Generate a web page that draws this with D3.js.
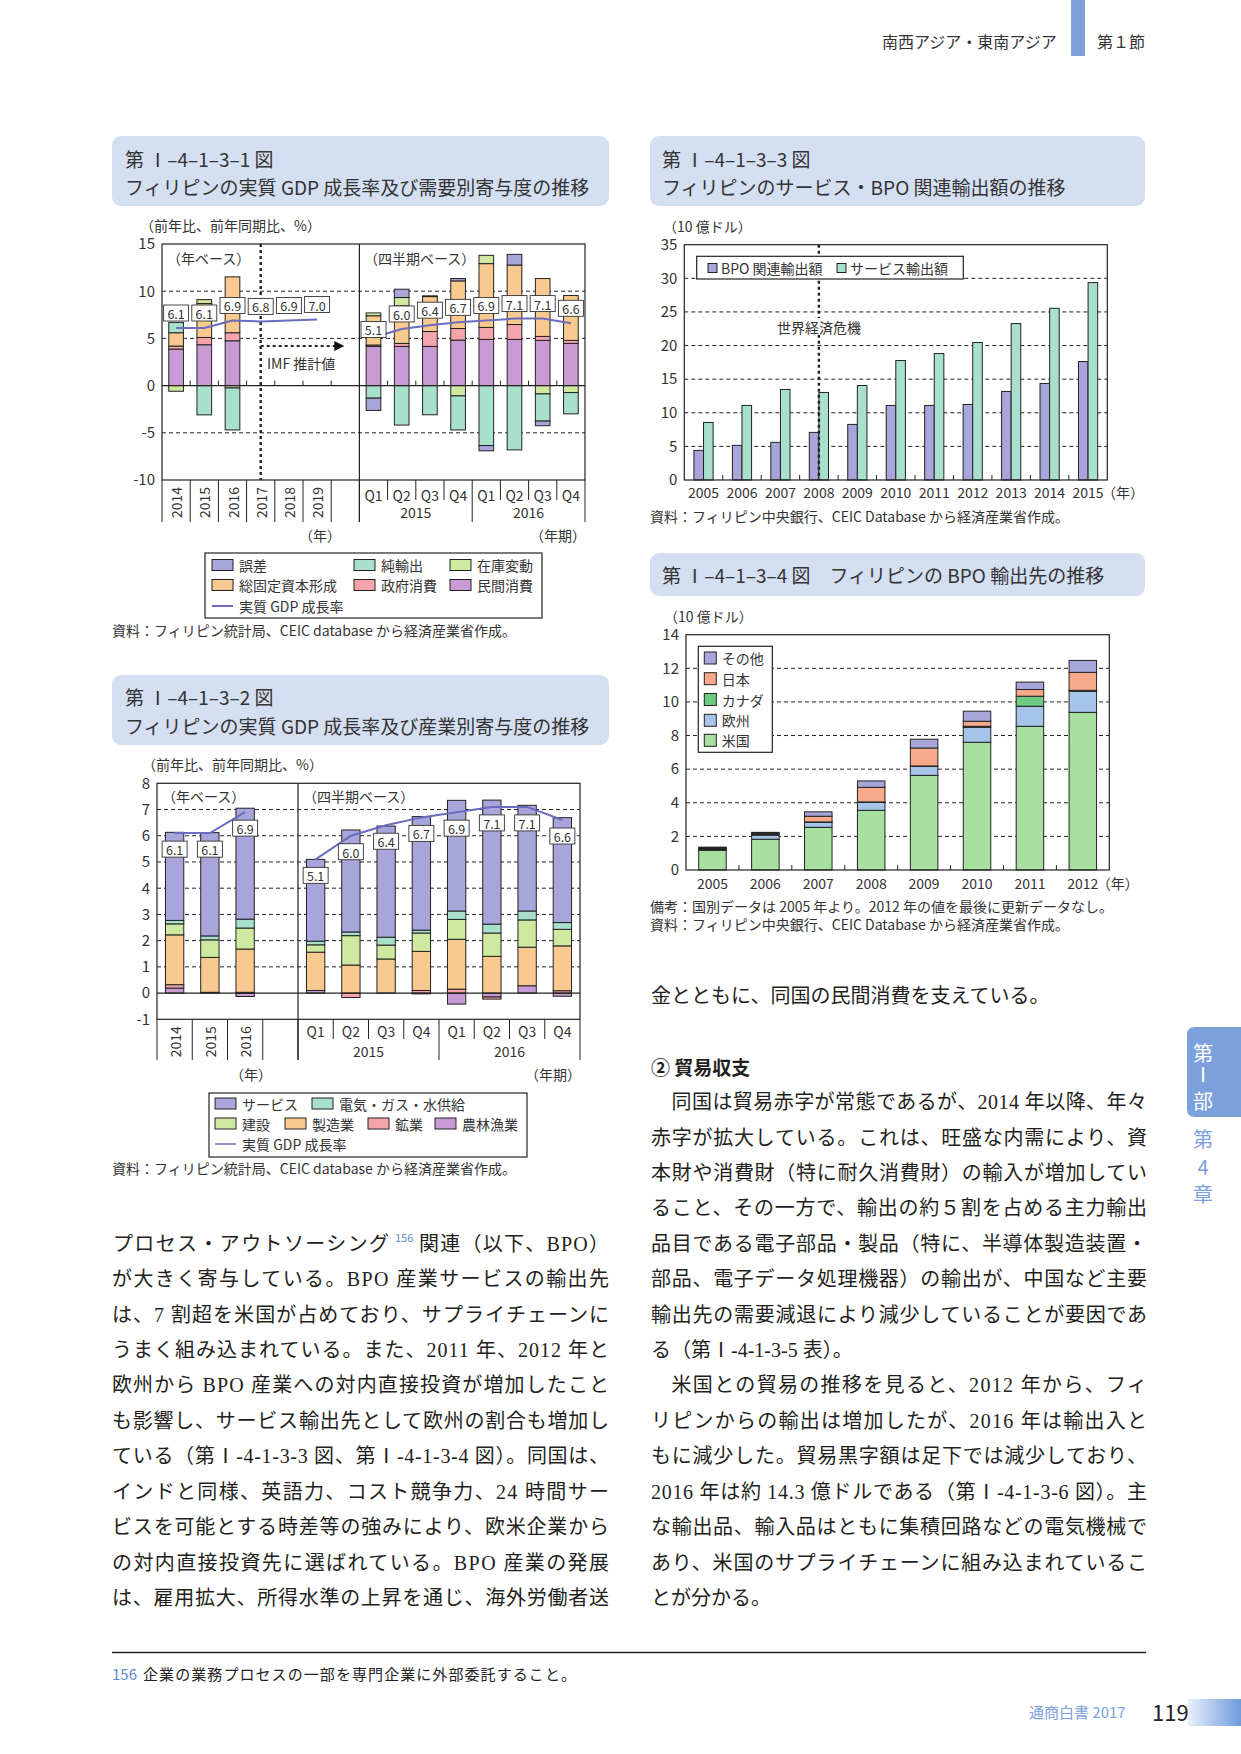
<!DOCTYPE html>
<html><head><meta charset="utf-8">
<script src="https://cdn.jsdelivr.net/npm/d3@7"></script>
<style>body{margin:0;background:#fff}svg{display:block}</style>
</head><body>
<script>
// ================= DATA =================
// Chart 1: real GDP growth & demand contributions
const c1Slots = ["2014","2015","2016","2017","2018","2019","blank","2015Q1","2015Q2","2015Q3","2015Q4","2016Q1","2016Q2","2016Q3","2016Q4"];
const c1BarPeriods = ["2014","2015","2016","2015Q1","2015Q2","2015Q3","2015Q4","2016Q1","2016Q2","2016Q3","2016Q4"];
const c1Keys = ["民間消費","政府消費","総固定資本形成","在庫変動","純輸出","誤差"];
const c1Private = [3.87,4.33,4.75,4.15,4.15,4.15,4.82,4.89,4.89,4.79,4.47];
const c1Gov     = [0.32,0.77,0.85,0.15,0.32,1.58,1.23,1.27,1.58,0.42,0.32];
const c1GFCF    = [1.41,3.59,5.92,3.10,3.98,3.70,5.04,6.76,6.30,6.13,4.75];
const c1Inv     = [-0.60,0.42,-0.25,0.30,0.88,0.00,-1.09,0.88,0.00,-0.88,-0.74];
const c1NetExp  = [1.09,-3.10,-4.45,-1.33,-4.18,-3.09,-3.61,-6.35,-6.81,-2.88,-2.25];
const c1Err     = [0.00,0.00,0.00,-1.30,0.88,0.08,0.25,-0.56,1.13,-0.49,0.00];
const c1GdpYears = ["2014","2015","2016","2017","2018","2019"];
const c1GdpAnnual = [6.1,6.1,6.9,6.8,6.9,7.0];
const c1GdpQuarters = ["2015Q1","2015Q2","2015Q3","2015Q4","2016Q1","2016Q2","2016Q3","2016Q4"];
const c1GdpQuarterly = [5.1,6.0,6.4,6.7,6.9,7.1,7.1,6.6];
const c1YTicks = [-10,-5,0,5,10,15];

// Chart 2: real GDP growth & industry contributions
const c2Slots = ["2014","2015","2016","blank","2015Q1","2015Q2","2015Q3","2015Q4","2016Q1","2016Q2","2016Q3","2016Q4"];
const c2BarPeriods = ["2014","2015","2016","2015Q1","2015Q2","2015Q3","2015Q4","2016Q1","2016Q2","2016Q3","2016Q4"];
const c2Keys = ["農林漁業","鉱業","製造業","建設","電気・ガス・水供給","サービス"];
const c2Agri    = [0.19,0.02,-0.13,0.10,0.00,0.00,-0.03,-0.42,-0.15,0.28,-0.12];
const c2Mining  = [0.13,0.01,0.03,0.00,-0.17,0.00,0.10,0.15,-0.08,0.00,0.09];
const c2Manuf   = [1.90,1.33,1.65,1.46,1.07,1.30,1.49,1.90,1.40,1.47,1.71];
const c2Constr  = [0.42,0.67,0.80,0.28,1.12,0.53,0.70,0.76,0.89,1.04,0.63];
const c2Util    = [0.13,0.15,0.34,0.14,0.14,0.30,0.11,0.32,0.34,0.34,0.26];
const c2Service = [3.36,3.94,4.23,3.12,3.89,4.24,4.33,4.22,4.73,4.03,4.00];
const c2GdpYears = ["2014","2015","2016"];
const c2GdpAnnual = [6.1,6.1,6.9];
const c2GdpQuarters = ["2015Q1","2015Q2","2015Q3","2015Q4","2016Q1","2016Q2","2016Q3","2016Q4"];
const c2GdpQuarterly = [5.1,6.0,6.4,6.7,6.9,7.1,7.1,6.6];
const c2YTicks = [-1,0,1,2,3,4,5,6,7,8];

// Chart 3: services & BPO exports (10 bn USD)
const c3Years = ["2005","2006","2007","2008","2009","2010","2011","2012","2013","2014","2015"];
const c3Bpo     = [4.40,5.15,5.60,7.08,8.27,11.09,11.09,11.24,13.17,14.36,17.62];
const c3Service = [8.56,11.09,13.47,13.02,14.06,17.77,18.81,20.45,23.27,25.54,29.36];
const c3YTicks = [0,5,10,15,20,25,30,35];

// Chart 4: BPO export destinations (10 bn USD)
const c4Years = ["2005","2006","2007","2008","2009","2010","2011","2012"];
const c4Keys = ["米国","欧州","カナダ","日本","その他"];
const c4US     = [1.17,1.83,2.54,3.55,5.63,7.60,8.55,9.38];
const c4EU     = [0.05,0.24,0.30,0.48,0.54,0.89,1.19,1.25];
const c4Canada = [0.04,0.05,0.02,0.02,0.02,0.06,0.60,0.06];
const c4Japan  = [0.05,0.06,0.34,0.87,1.07,0.30,0.40,1.07];
const c4Other  = [0.05,0.06,0.26,0.38,0.52,0.60,0.44,0.71];
const c4YTicks = [0,2,4,6,8,10,12,14];

// ================= STYLE =================
const SANS = "'Noto Sans CJK JP','Noto Sans',sans-serif";
const BODY = "'Liberation Serif','Noto Sans CJK JP',serif";
const INK = "#333";
const LINEC = "#6b6bbf";
const BLUE = "#7ba0dc";
const c1Colors = {"民間消費":"#c89bd5","政府消費":"#f5a4ab","総固定資本形成":"#f9ca8f","在庫変動":"#cfe9a0","純輸出":"#a8e0cc","誤差":"#a7a5d9"};
const c2Colors = {"農林漁業":"#c89bd5","鉱業":"#f5a4ab","製造業":"#f9ca8f","建設":"#cfe9a0","電気・ガス・水供給":"#a8e0cc","サービス":"#a7a5d9"};
const c3Colors = {bpo:"#a7a5d9", service:"#a8e0cc"};
const c4Colors = {"米国":"#a8e0a0","欧州":"#a6c4ea","カナダ":"#6dcc80","日本":"#f8a98a","その他":"#a7a5d9"};

const svg = d3.select("body").append("svg").attr("width",1241).attr("height",1754);

function T(g,x,y,s,o={}){
  const t=g.append("text").attr("x",x).attr("y",y).text(s)
    .attr("font-family",o.ff||SANS).attr("font-size",o.fs||14).attr("fill",o.fill||INK)
    .attr("dominant-baseline","central").attr("text-anchor",o.anchor||"start");
  if(o.fw) t.attr("font-weight",o.fw);
  if(o.tl) t.attr("textLength",o.tl).attr("lengthAdjust","spacing");
  if(o.rot!=null) t.attr("transform",`rotate(${o.rot},${x},${y})`);
  return t;
}
function L(g,x1,y1,x2,y2,o={}){
  const l=g.append("line").attr("x1",x1).attr("y1",y1).attr("x2",x2).attr("y2",y2)
    .attr("stroke",o.c||"#222").attr("stroke-width",o.w||1);
  if(o.dash) l.attr("stroke-dasharray",o.dash);
  return l;
}
function titleBox(x,y,w,h){
  svg.append("rect").attr("x",x).attr("y",y).attr("width",w).attr("height",h).attr("rx",9).attr("fill","#d5dff2");
}
function yAxis(g,y,ticks,x){
  const ax=g.append("g").attr("transform",`translate(${x},0)`)
    .call(d3.axisLeft(y).tickValues(ticks).tickSize(0).tickPadding(7).tickFormat(d=>String(d)));
  ax.select(".domain").remove();
  ax.selectAll("text").attr("font-family",SANS).attr("font-size",15).attr("fill",INK);
}
function stackBars(g,periods,keys,series,x,y,colors,frac){
  const rows=periods.map((p,i)=>{const r={period:p};keys.forEach((k,j)=>r[k]=series[j][i]);return r;});
  const st=d3.stack().keys(keys).offset(d3.stackOffsetDiverging)(rows);
  const bw=x.bandwidth()*frac;
  st.forEach(s=>{
    g.append("g").selectAll("rect").data(s.filter(d=>Math.abs(d[1]-d[0])>1e-9)).join("rect")
      .attr("x",d=>x(d.data.period)+(x.bandwidth()-bw)/2)
      .attr("y",d=>y(Math.max(d[0],d[1])))
      .attr("width",bw)
      .attr("height",d=>Math.abs(y(d[0])-y(d[1])))
      .attr("fill",colors[s.key]).attr("stroke","#222").attr("stroke-width",1);
  });
}
function gdpLine(g,x,y,keys,vals){
  const pts=keys.map((k,i)=>[x(k)+x.bandwidth()/2,y(vals[i])]);
  g.append("path").attr("d",d3.line()(pts)).attr("fill","none").attr("stroke",LINEC).attr("stroke-width",2);
}
function valBox(g,cx,cy,s){
  g.append("rect").attr("x",cx-12.5).attr("y",cy-8).attr("width",25).attr("height",16)
    .attr("fill","#fff").attr("stroke","#333").attr("stroke-width",0.9);
  T(g,cx,cy+0.5,s,{fs:12.5,anchor:"middle"});
}
function swatch(g,x,y,w,h,c){
  g.append("rect").attr("x",x).attr("y",y-h/2).attr("width",w).attr("height",h).attr("fill",c).attr("stroke","#222").attr("stroke-width",1);
}

// ================= HEADER / SIDE / FOOTER =================
T(svg,882,41,"南西アジア・東南アジア",{fs:16});
svg.append("rect").attr("x",1071).attr("y",0).attr("width",14).attr("height",56).attr("fill",BLUE);
T(svg,1097,41,"第１節",{fs:16});

svg.append("path").attr("d","M1241,1027 L1195,1027 Q1187,1027 1187,1035 L1187,1109 Q1187,1117 1195,1117 L1241,1117 Z").attr("fill",BLUE);
T(svg,1203,1052,"第",{fs:20,fill:"#fff",anchor:"middle"});
T(svg,1203,1075,"Ⅰ",{fs:20,fill:"#fff",anchor:"middle",ff:BODY});
T(svg,1203,1100,"部",{fs:20,fill:"#fff",anchor:"middle"});
T(svg,1203,1138,"第",{fs:20,fill:BLUE,anchor:"middle"});
T(svg,1203,1166,"4",{fs:20,fill:BLUE,anchor:"middle"});
T(svg,1203,1193,"章",{fs:20,fill:BLUE,anchor:"middle"});

L(svg,112,1652.5,1146,1652.5,{w:1.3,c:"#222"});
T(svg,112,1673,"156",{fs:15,fill:"#5b8bd0"});
T(svg,143,1673,"企業の業務プロセスの一部を専門企業に外部委託すること。",{fs:15,fill:"#222",tl:433});
T(svg,1029,1711,"通商白書 2017",{fs:15,fill:BLUE});
T(svg,1152,1711,"119",{fs:22,fill:"#222"});
const grad=svg.append("defs").append("linearGradient").attr("id","pg").attr("x1","0").attr("x2","1");
grad.append("stop").attr("offset","0").attr("stop-color","#e8effa");
grad.append("stop").attr("offset","1").attr("stop-color","#6f9bdc");
svg.append("rect").attr("x",1188).attr("y",1699).attr("width",53).attr("height",27).attr("fill","url(#pg)");

// ================= CHART 1 =================
titleBox(112,136,497,70);
T(svg,125,158,"第 Ⅰ–4–1–3–1 図",{fs:19});
T(svg,125,186.5,"フィリピンの実質 GDP 成長率及び需要別寄与度の推移",{fs:19});
{
  const g=svg.append("g");
  T(g,140,225,"（前年比、前年同期比、%）",{fs:14});
  const x=d3.scaleBand().domain(c1Slots).range([162,585]);
  const y=d3.scaleLinear().domain([-10,15]).range([480,244]);
  [10,5,-5].forEach(v=>L(g,162,y(v),585,y(v),{dash:"4,3"}));
  stackBars(g,c1BarPeriods,c1Keys,[c1Private,c1Gov,c1GFCF,c1Inv,c1NetExp,c1Err],x,y,c1Colors,0.52);
  L(g,162,y(0),585,y(0),{w:1.2});
  c1Slots.slice(1).forEach(k=>{ if(k!=="2015Q1") L(g,x(k),y(0)-5,x(k),y(0)); });
  g.append("rect").attr("x",162).attr("y",244).attr("width",423).attr("height",236).attr("fill","none").attr("stroke","#222").attr("stroke-width",1.2);
  const xd=x("2015Q1");
  L(g,xd,244,xd,522,{w:1.2});
  yAxis(g,y,c1YTicks,162);
  ["2014","2015","2016","2017","2018","2019","blank"].forEach(k=>{L(g,x(k),480,x(k),522);});
  c1GdpQuarters.forEach((k,i)=>{ const full=(i===0||i===4); L(g,x(k),480,x(k),full?522:500); });
  L(g,585,480,585,522);
  ["2014","2015","2016","2017","2018","2019"].forEach(k=>T(g,x(k)+x.bandwidth()/2,502.5,k,{fs:14,anchor:"middle",rot:-90}));
  c1GdpQuarters.forEach(k=>T(g,x(k)+x.bandwidth()/2,495,k.slice(4),{fs:14,anchor:"middle"}));
  T(g,(x("2015Q1")+x("2015Q4")+x.bandwidth())/2,512,"2015",{fs:14,anchor:"middle"});
  T(g,(x("2016Q1")+x("2016Q4")+x.bandwidth())/2,512,"2016",{fs:14,anchor:"middle"});
  T(g,320,535,"（年）",{fs:14,anchor:"middle"});
  T(g,586,535,"（年期）",{fs:14,anchor:"end"});
  T(g,167,258,"（年ベース）",{fs:14});
  T(g,364,258,"（四半期ベース）",{fs:14});
  const xv=x("2017")+x.bandwidth()/2;
  L(g,xv,244,xv,480,{w:2.4,dash:"3,3"});
  const xa=x("blank")+x.bandwidth()/2-1, ya=y(4.2);
  L(g,xv,ya,xa-9,ya,{w:2,dash:"3,3"});
  g.append("path").attr("d",`M${xa},${ya} L${xa-10},${ya-5} L${xa-10},${ya+5} Z`).attr("fill","#111");
  T(g,267,363,"IMF 推計値",{fs:14});
  gdpLine(g,x,y,c1GdpYears,c1GdpAnnual);
  gdpLine(g,x,y,c1GdpQuarters,c1GdpQuarterly);
  c1GdpYears.forEach((k,i)=>valBox(g,x(k)+x.bandwidth()/2,y(c1GdpAnnual[i])-15,c1GdpAnnual[i].toFixed(1)));
  c1GdpQuarters.forEach((k,i)=>valBox(g,x(k)+x.bandwidth()/2,y(c1GdpQuarterly[i])-(i===0?8:15),c1GdpQuarterly[i].toFixed(1)));
  g.append("rect").attr("x",205).attr("y",553).attr("width",337).attr("height",65).attr("fill","#fff").attr("stroke","#222").attr("stroke-width",1.2);
  const leg=[["誤差",212,565],["純輸出",354,565],["在庫変動",450,565],["総固定資本形成",212,585],["政府消費",354,585],["民間消費",450,585]];
  leg.forEach(([k,lx,ly])=>{swatch(g,lx,ly,21,11,c1Colors[k]);T(g,lx+27,ly,k,{fs:14});});
  L(g,212,606,233,606,{c:LINEC,w:2});
  T(g,239,606,"実質 GDP 成長率",{fs:14});
  T(g,112,630,"資料：フィリピン統計局、CEIC database から経済産業省作成。",{fs:14});
}

// ================= CHART 2 =================
titleBox(112,675,497,70);
T(svg,125,696,"第 Ⅰ–4–1–3–2 図",{fs:19});
T(svg,125,725,"フィリピンの実質 GDP 成長率及び産業別寄与度の推移",{fs:19});
{
  const g=svg.append("g");
  T(g,142,764,"（前年比、前年同期比、%）",{fs:14});
  const x=d3.scaleBand().domain(c2Slots).range([157,580]);
  const y=d3.scaleLinear().domain([-1,8]).range([1019.3,783.3]);
  [1,2,3,4,5,6,7].forEach(v=>L(g,157,y(v),580,y(v),{dash:"4,3"}));
  stackBars(g,c2BarPeriods,c2Keys,[c2Agri,c2Mining,c2Manuf,c2Constr,c2Util,c2Service],x,y,c2Colors,0.52);
  L(g,157,y(0),580,y(0),{w:1.2});
  g.append("rect").attr("x",157).attr("y",783.3).attr("width",423).attr("height",236).attr("fill","none").attr("stroke","#222").attr("stroke-width",1.2);
  const xd=x("2015Q1");
  L(g,xd,783.3,xd,1060,{w:1.2});
  yAxis(g,y,c2YTicks,157);
  ["2014","2015","2016","blank"].forEach(k=>L(g,x(k),1019.3,x(k),1060));
  c2GdpQuarters.forEach((k,i)=>{ const full=(i===0||i===4); L(g,x(k),1019.3,x(k),full?1060:1039); });
  L(g,580,1019.3,580,1060);
  ["2014","2015","2016"].forEach(k=>T(g,x(k)+x.bandwidth()/2,1041.7,k,{fs:14,anchor:"middle",rot:-90}));
  c2GdpQuarters.forEach(k=>T(g,x(k)+x.bandwidth()/2,1031,k.slice(4),{fs:14,anchor:"middle"}));
  T(g,(x("2015Q1")+x("2015Q4")+x.bandwidth())/2,1051,"2015",{fs:14,anchor:"middle"});
  T(g,(x("2016Q1")+x("2016Q4")+x.bandwidth())/2,1051,"2016",{fs:14,anchor:"middle"});
  T(g,251,1074,"（年）",{fs:14,anchor:"middle"});
  T(g,581,1074,"（年期）",{fs:14,anchor:"end"});
  T(g,162,796,"（年ベース）",{fs:14});
  T(g,303,796,"（四半期ベース）",{fs:14});
  gdpLine(g,x,y,c2GdpYears,c2GdpAnnual);
  gdpLine(g,x,y,c2GdpQuarters,c2GdpQuarterly);
  c2GdpYears.forEach((k,i)=>valBox(g,x(k)+x.bandwidth()/2,y(c2GdpAnnual[i])+16,c2GdpAnnual[i].toFixed(1)));
  c2GdpQuarters.forEach((k,i)=>valBox(g,x(k)+x.bandwidth()/2,y(c2GdpQuarterly[i])+16,c2GdpQuarterly[i].toFixed(1)));
  g.append("rect").attr("x",209).attr("y",1093).attr("width",318).attr("height",64).attr("fill","#fff").attr("stroke","#222").attr("stroke-width",1.2);
  const leg=[["サービス",215,1103.5],["電気・ガス・水供給",312,1103.5],["建設",215,1123.5],["製造業",285,1123.5],["鉱業",368,1123.5],["農林漁業",435,1123.5]];
  leg.forEach(([k,lx,ly])=>{swatch(g,lx,ly,21,11,c2Colors[k]);T(g,lx+27,ly,k,{fs:14});});
  L(g,215,1144,236,1144,{c:LINEC,w:1.5});
  T(g,242,1144,"実質 GDP 成長率",{fs:14});
  T(g,112,1168,"資料：フィリピン統計局、CEIC database から経済産業省作成。",{fs:14});
}

// ================= CHART 3 =================
titleBox(650,136,495,70);
T(svg,662,158,"第 Ⅰ–4–1–3–3 図",{fs:19});
T(svg,662,186.5,"フィリピンのサービス・BPO 関連輸出額の推移",{fs:19});
{
  const g=svg.append("g");
  T(g,663,225.5,"（10 億ドル）",{fs:14});
  const x=d3.scaleBand().domain(c3Years).range([684.3,1107.3]);
  const y=d3.scaleLinear().domain([0,35]).range([480,244.7]);
  [5,10,15,20,25,30].forEach(v=>L(g,684.3,y(v),1107.3,y(v),{dash:"4,3"}));
  const bw=9.6;
  g.append("g").selectAll("rect").data(c3Years).join("rect")
    .attr("x",d=>x(d)+x.bandwidth()/2-bw).attr("y",(d,i)=>y(c3Bpo[i]))
    .attr("width",bw).attr("height",(d,i)=>y(0)-y(c3Bpo[i]))
    .attr("fill",c3Colors.bpo).attr("stroke","#222").attr("stroke-width",1);
  g.append("g").selectAll("rect").data(c3Years).join("rect")
    .attr("x",d=>x(d)+x.bandwidth()/2).attr("y",(d,i)=>y(c3Service[i]))
    .attr("width",bw).attr("height",(d,i)=>y(0)-y(c3Service[i]))
    .attr("fill",c3Colors.service).attr("stroke","#222").attr("stroke-width",1);
  c3Years.slice(1).forEach(k=>L(g,x(k),y(0)-5,x(k),y(0)));
  g.append("rect").attr("x",684.3).attr("y",244.7).attr("width",423).attr("height",235.3).attr("fill","none").attr("stroke","#222").attr("stroke-width",1.2);
  yAxis(g,y,c3YTicks,684.3);
  const xv=x("2008")+x.bandwidth()/2;
  L(g,xv,244.7,xv,480,{w:2.4,dash:"3,3"});
  g.append("rect").attr("x",775).attr("y",318).attr("width",89).attr("height",17).attr("fill","#fff");
  T(g,xv,326.5,"世界経済危機",{fs:14,anchor:"middle"});
  g.append("rect").attr("x",696.7).attr("y",256.3).attr("width",266.6).attr("height",22.7).attr("fill","#fff").attr("stroke","#222").attr("stroke-width",1.2);
  swatch(g,708,268,9,9,c3Colors.bpo); T(g,721,268,"BPO 関連輸出額",{fs:14});
  swatch(g,837,268,9,9,c3Colors.service); T(g,850,268,"サービス輸出額",{fs:14});
  c3Years.forEach(k=>T(g,x(k)+x.bandwidth()/2,492,k,{fs:14,anchor:"middle"}));
  T(g,x("2015")+x.bandwidth()/2+14,492,"（年）",{fs:14});
  T(g,650,516,"資料：フィリピン中央銀行、CEIC Database から経済産業省作成。",{fs:14});
}

// ================= CHART 4 =================
titleBox(650,553,495,43);
T(svg,662,574.5,"第 Ⅰ–4–1–3–4 図　フィリピンの BPO 輸出先の推移",{fs:19});
{
  const g=svg.append("g");
  T(g,664,616.3,"（10 億ドル）",{fs:14});
  const x=d3.scaleBand().domain(c4Years).range([686,1109.3]);
  const y=d3.scaleLinear().domain([0,14]).range([870,634.7]);
  [2,4,6,8,10,12].forEach(v=>L(g,686,y(v),1109.3,y(v),{dash:"4,3"}));
  stackBars(g,c4Years,c4Keys,[c4US,c4EU,c4Canada,c4Japan,c4Other],x,y,c4Colors,0.52);
  c4Years.slice(1).forEach(k=>L(g,x(k),y(0)-5,x(k),y(0)));
  g.append("rect").attr("x",686).attr("y",634.7).attr("width",423.3).attr("height",235.3).attr("fill","none").attr("stroke","#222").attr("stroke-width",1.2);
  yAxis(g,y,c4YTicks,686);
  g.append("rect").attr("x",698.3).attr("y",646.3).attr("width",74).attr("height",106).attr("fill","#fff").attr("stroke","#222").attr("stroke-width",1.2);
  [["その他",658],["日本",678.7],["カナダ",699.5],["欧州",720.3],["米国",740.3]].forEach(([k,ly])=>{
    swatch(g,704.3,ly,12,12,c4Colors[k]); T(g,721.7,ly,k,{fs:14});
  });
  c4Years.forEach(k=>T(g,x(k)+x.bandwidth()/2,883.3,k,{fs:14,anchor:"middle"}));
  T(g,x("2012")+x.bandwidth()/2+14,883.3,"（年）",{fs:14});
  T(g,650,906,"備考：国別データは 2005 年より。2012 年の値を最後に更新データなし。",{fs:14});
  T(g,650,923.5,"資料：フィリピン中央銀行、CEIC Database から経済産業省作成。",{fs:14});
}

// ================= BODY TEXT =================
{
  const g=svg.append("g");
  const step=35.41, y0=1102.2, FS=20, col="#231f20";
  const o={fs:FS,ff:BODY,fill:col};
  T(g,651,996,"金とともに、同国の民間消費を支えている。",o);
  T(g,651,1066.5,"② 貿易収支",{fs:19,ff:SANS,fill:col,fw:"bold"});
  const R=[
    [1,"同国は貿易赤字が常態であるが、2014 年以降、年々",true],
    [0,"赤字が拡大している。これは、旺盛な内需により、資",true],
    [0,"本財や消費財（特に耐久消費財）の輸入が増加してい",true],
    [0,"ること、その一方で、輸出の約５割を占める主力輸出",true],
    [0,"品目である電子部品・製品（特に、半導体製造装置・",true],
    [0,"部品、電子データ処理機器）の輸出が、中国など主要",true],
    [0,"輸出先の需要減退により減少していることが要因であ",true],
    [0,"る（第Ⅰ-4-1-3-5 表）。",false],
    [1,"米国との貿易の推移を見ると、2012 年から、フィ",true],
    [0,"リピンからの輸出は増加したが、2016 年は輸出入と",true],
    [0,"もに減少した。貿易黒字額は足下では減少しており、",true],
    [0,"2016 年は約 14.3 億ドルである（第Ⅰ-4-1-3-6 図）。主",true],
    [0,"な輸出品、輸入品はともに集積回路などの電気機械で",true],
    [0,"あり、米国のサプライチェーンに組み込まれているこ",true],
    [0,"とが分かる。",false]
  ];
  R.forEach(([ind,s,j],i)=>{
    const xs=651+ind*20.5;
    T(g,xs,y0+i*step,s,Object.assign({},o,j?{tl:1147-xs}:{}));
  });
  const yl=i=>y0+(i+4)*step;
  T(g,113,yl(0),"プロセス・アウトソーシング",Object.assign({},o,{tl:276}));
  T(g,395,yl(0)-7,"156",{fs:11,ff:SANS,fill:"#5b8bd0"});
  T(g,419,yl(0),"関連（以下、BPO）",Object.assign({},o,{tl:190}));
  const Lc=[
    "が大きく寄与している。BPO 産業サービスの輸出先",
    "は、7 割超を米国が占めており、サプライチェーンに",
    "うまく組み込まれている。また、2011 年、2012 年と",
    "欧州から BPO 産業への対内直接投資が増加したこと",
    "も影響し、サービス輸出先として欧州の割合も増加し",
    "ている（第Ⅰ-4-1-3-3 図、第Ⅰ-4-1-3-4 図）。同国は、",
    "インドと同様、英語力、コスト競争力、24 時間サー",
    "ビスを可能とする時差等の強みにより、欧米企業から",
    "の対内直接投資先に選ばれている。BPO 産業の発展",
    "は、雇用拡大、所得水準の上昇を通じ、海外労働者送"
  ];
  Lc.forEach((s,i)=>T(g,112,yl(i+1),s,Object.assign({},o,{tl:497})));
}
</script>
</body></html>
